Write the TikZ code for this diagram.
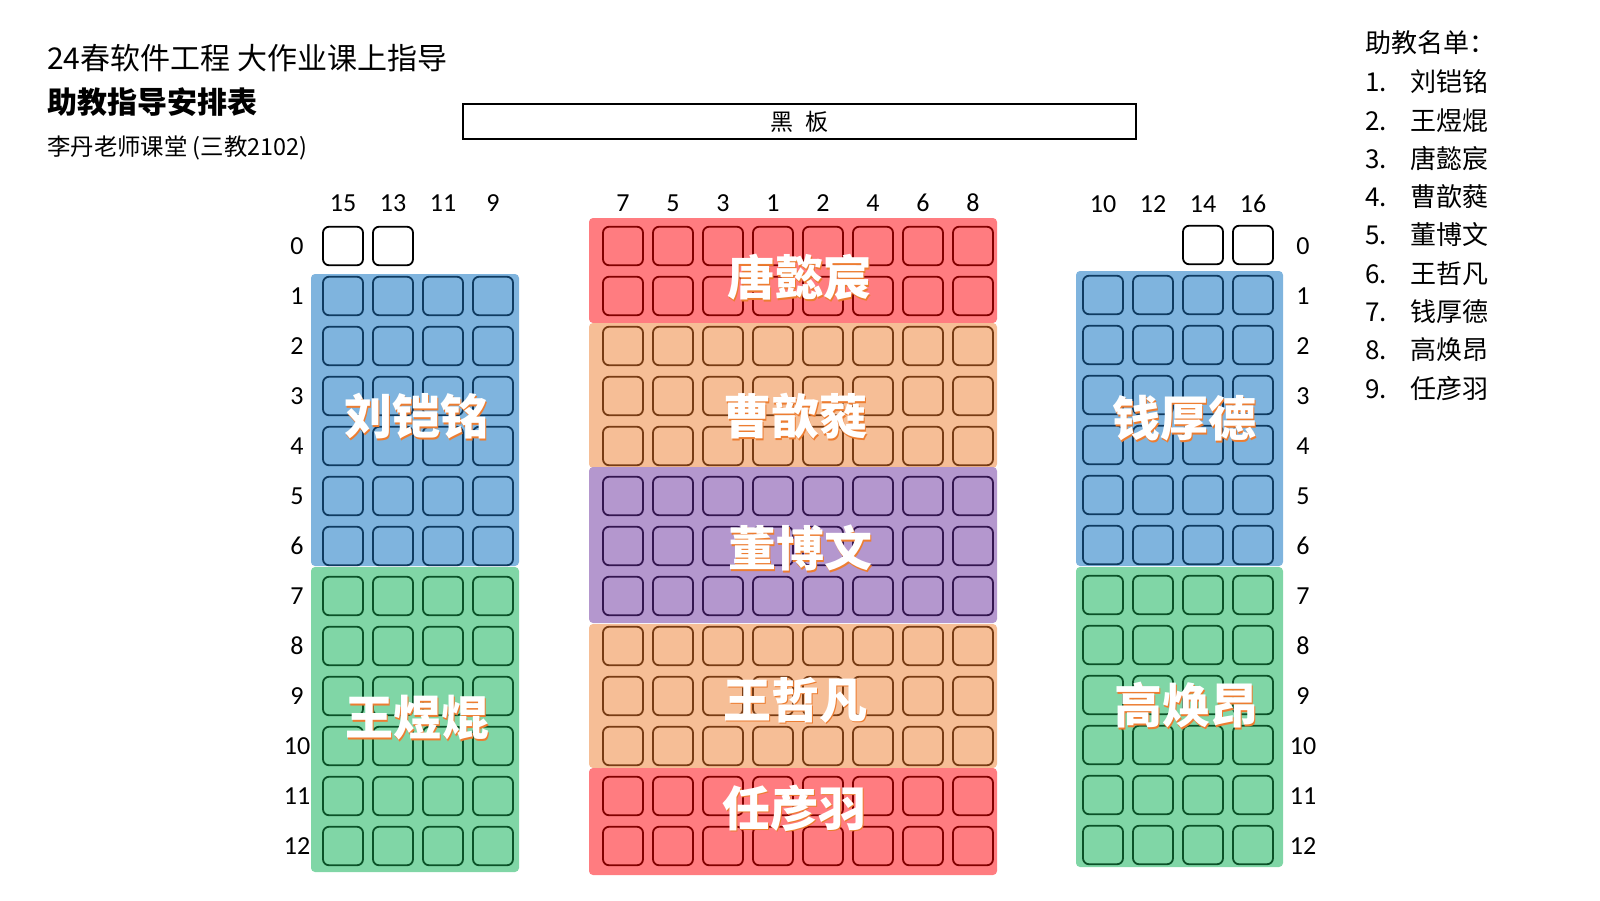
\documentclass[tikz,border=0pt]{standalone}
\usepackage{fontspec}
\usepackage{xcolor}
\usepackage{tikz}
\setmainfont{Noto Sans CJK SC}
\newfontfamily\numfont{Carlito}
\definecolor{bluefill}{HTML}{7FB4DE}
\definecolor{greenfill}{HTML}{80D6A6}
\definecolor{redfill}{HTML}{FF7C80}
\definecolor{orangefill}{HTML}{F6BE96}
\definecolor{purplefill}{HTML}{B497CE}
\definecolor{bluedark}{HTML}{0F3B61}
\definecolor{greendark}{HTML}{0B5228}
\definecolor{reddark}{HTML}{820000}
\definecolor{orangedark}{HTML}{783C14}
\definecolor{purpledark}{HTML}{341650}
\definecolor{nameorange}{HTML}{ED7D31}

\begin{document}
\begin{tikzpicture}[
    x=1pt, y=-1pt,
    seat/.style={draw, rounded corners=6pt, minimum width=40pt, minimum height=38.5pt,
      line width=1.8pt, inner sep=0pt},
    block/.style={rounded corners=4pt, inner sep=0pt, outer sep=0pt},
    num/.style={font=\numfont\fontsize{26}{30}\selectfont, inner sep=0pt},
    bigname/.style={font=\fontsize{48}{56}\selectfont\bfseries, text=white, inner sep=0pt},
    namecast/.style={font=\fontsize{48}{56}\selectfont\bfseries, text=nameorange, inner sep=0pt},
    listitem/.style={font=\fontsize{26}{30}\selectfont, anchor=base west, inner sep=0pt}
  ]
    \useasboundingbox (0,0) rectangle (1600,900);

    % headings
    \node[anchor=base west, inner sep=0pt, font=\fontsize{30}{34}\selectfont]
      (title) at (47,69) {24春软件工程 大作业课上指导};
    \node[anchor=base west, inner sep=0pt, font=\fontsize{30}{34}\selectfont\bfseries]
      (subtitle) at (47,113) {助教指导安排表};
    \node[anchor=base west, inner sep=0pt, font=\fontsize{23.4}{28}\selectfont]
      (room) at (47,155) {李丹老师课堂 (三教2102)};
    \node[draw, line width=2pt, minimum width=673pt, minimum height=35pt, inner sep=0pt,
      font=\fontsize{23}{28}\selectfont] (board) at (799.5,121.5) {黑\hspace{0.5em}板};

    % helper list
    \node[listitem] (listhead) at (1365,52) {助教名单：};
    \foreach \nm [count=\k] in {刘铠铭,王煜焜,唐懿宸,曹歆蕤,董博文,王哲凡,钱厚德,高焕昂,任彦羽} {
      \node[listitem] (idx\k) at (1365,53.4+38.3*\k) {\k.};
      \node[listitem] (ta\k) at (1410,53.4+38.3*\k) {\nm};
    }

    % coloured areas
    \node[block, fill=bluefill, minimum width=208pt, minimum height=292pt] (liuarea) at (415,420) {};
    \node[block, fill=greenfill, minimum width=208pt, minimum height=305pt] (wangyarea) at (415,719.5) {};
    \node[block, fill=redfill, minimum width=408pt, minimum height=105pt] (tangarea) at (793,270.5) {};
    \node[block, fill=orangefill, minimum width=408pt, minimum height=145pt] (caoarea) at (793,395.5) {};
    \node[block, fill=purplefill, minimum width=408pt, minimum height=156pt] (dongarea) at (793,545) {};
    \node[block, fill=orangefill, minimum width=408pt, minimum height=144pt] (wangzarea) at (793,696) {};
    \node[block, fill=redfill, minimum width=408pt, minimum height=107pt] (renarea) at (793,821.5) {};
    \node[block, fill=bluefill, minimum width=207pt, minimum height=295pt] (qianarea) at (1179.5,418.5) {};
    \node[block, fill=greenfill, minimum width=207pt, minimum height=300pt] (gaoarea) at (1179.5,717) {};

    % row numbers
    \foreach \r in {0,...,12} {
      \node[num] (lrow\r) at (297,246+50*\r) {\r};
      \node[num] (rrow\r) at (1303,246+50*\r) {\r};
    }

    % left wing
    \foreach \lab [count=\i from 0] in {15,13,11,9} {
      \node[num] (lcol\lab) at (343+50*\i,203) {\lab};
      \foreach \r in {1,...,6}
        \node[seat, draw=bluedark] (l\lab-\r) at (343+50*\i,246+50*\r) {};
      \foreach \r in {7,...,12}
        \node[seat, draw=greendark] (l\lab-\r) at (343+50*\i,246+50*\r) {};
    }
    \node[seat, fill=white] (l15-0) at (343,246) {};
    \node[seat, fill=white] (l13-0) at (393,246) {};

    % middle
    \foreach \lab [count=\i from 0] in {7,5,3,1,2,4,6,8} {
      \node[num] (ccol\lab) at (623+50*\i,203) {\lab};
      \foreach \r/\edge in {0/reddark,1/reddark,2/orangedark,3/orangedark,4/orangedark,
          5/purpledark,6/purpledark,7/purpledark,8/orangedark,9/orangedark,10/orangedark,
          11/reddark,12/reddark}
        \node[seat, draw=\edge] (c\lab-\r) at (623+50*\i,246+50*\r) {};
    }

    % right wing
    \foreach \lab [count=\i from 0] in {10,12,14,16} {
      \node[num] (rcol\lab) at (1103+50*\i,204) {\lab};
      \foreach \r in {1,...,6}
        \node[seat, draw=bluedark] (r\lab-\r) at (1103+50*\i,245+50*\r) {};
      \foreach \r in {7,...,12}
        \node[seat, draw=greendark] (r\lab-\r) at (1103+50*\i,245+50*\r) {};
    }
    \node[seat, fill=white] (r14-0) at (1203,245) {};
    \node[seat, fill=white] (r16-0) at (1253,245) {};

    % helper names
    \foreach \id/\nm/\px/\py in {liu/刘铠铭/416/416, wangy/王煜焜/417/718, tang/唐懿宸/799/277,
        cao/曹歆蕤/795/416, dong/董博文/800/548, wangz/王哲凡/795/700, ren/任彦羽/794/808,
        qian/钱厚德/1184/418, gao/高焕昂/1186/705} {
      \node[namecast] at (\px+1.8,\py+1.8) {\nm};
      \node[bigname] (\id) at (\px,\py) {\nm};
    }
\end{tikzpicture}
\end{document}
